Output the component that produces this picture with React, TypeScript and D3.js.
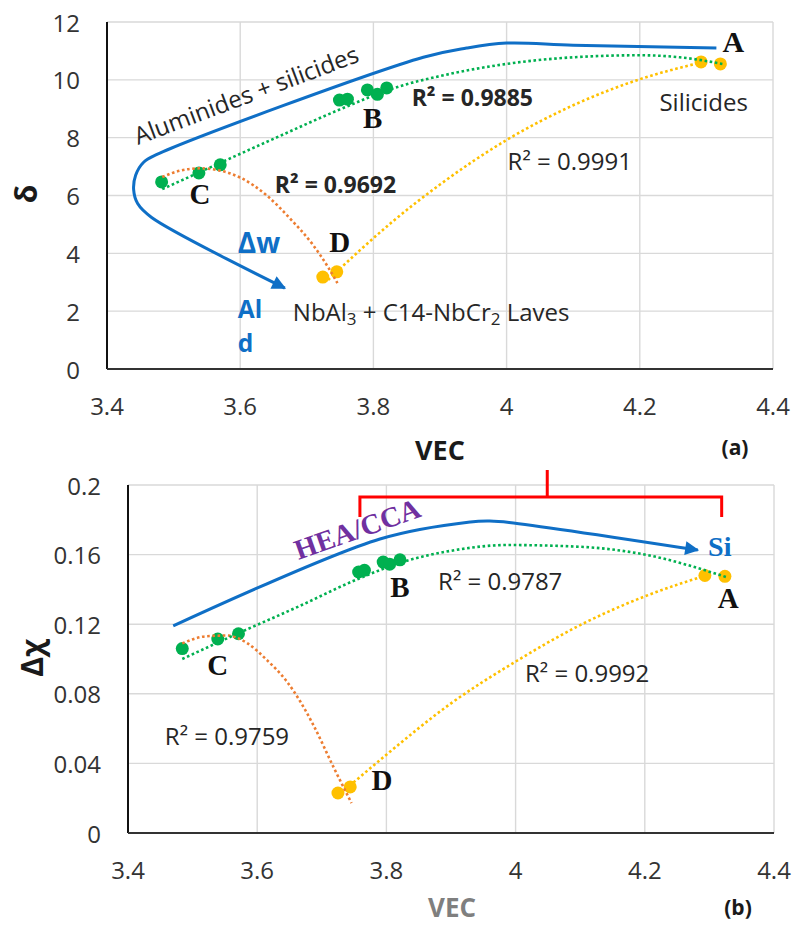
import React from "react";
import * as d3 from "d3";

// ---------- data ----------
const xTickValues = [3.4, 3.6, 3.8, 4, 4.2, 4.4];
const xTickLabels = ["3.4", "3.6", "3.8", "4", "4.2", "4.4"];
const topYTickValues = [0, 2, 4, 6, 8, 10, 12];
const topYTickLabels = ["0", "2", "4", "6", "8", "10", "12"];
const botYTickValues = [0, 0.04, 0.08, 0.12, 0.16, 0.2];
const botYTickLabels = ["0", "0.04", "0.08", "0.12", "0.16", "0.2"];

// (a) delta vs VEC
const topC: [number, number][] = [[3.482, 6.47], [3.538, 6.78], [3.570, 7.06]];
const topB: [number, number][] = [[3.749, 9.30], [3.761, 9.33], [3.791, 9.65], [3.806, 9.50], [3.820, 9.72]];
const topD: [number, number][] = [[3.724, 3.18], [3.745, 3.36]];
const topA: [number, number][] = [[4.292, 10.62], [4.321, 10.55]];
const topGreenTrend: [number, number][] = [[3.483, 6.22], [3.55, 6.92], [3.65, 7.96], [3.75, 8.98], [3.8, 9.45], [3.84, 9.78], [3.9, 10.13], [4.0, 10.55], [4.1, 10.78], [4.2, 10.85], [4.26, 10.78], [4.324, 10.55]];
const topOrangeTrend: [number, number][] = [[3.483, 6.64], [3.51, 6.86], [3.54, 6.94], [3.57, 6.86], [3.6, 6.62], [3.64, 6.0], [3.675, 5.2], [3.709, 4.3], [3.732, 3.52], [3.746, 2.97]];
const topYellowTrend: [number, number][] = [[3.732, 3.08], [3.78, 4.11], [3.83, 5.12], [3.9, 6.38], [4.0, 7.92], [4.1, 9.12], [4.2, 10.02], [4.292, 10.6]];
const topBluePath: [number, number][] = [[4.315, 11.1], [4.1, 11.2], [4.0, 11.27], [3.94, 11.1], [3.875, 10.78], [3.475, 7.42], [3.455, 7.15], [3.443, 6.7], [3.44, 6.2], [3.446, 5.72], [3.467, 5.24], [3.667, 2.8]];

// (b) delta chi vs VEC
const botC: [number, number][] = [[3.484, 0.106], [3.539, 0.1115], [3.571, 0.1145]];
const botB: [number, number][] = [[3.757, 0.150], [3.766, 0.151], [3.795, 0.1557], [3.805, 0.1545], [3.821, 0.157]];
const botD: [number, number][] = [[3.725, 0.023], [3.744, 0.0265]];
const botA: [number, number][] = [[4.293, 0.148], [4.324, 0.1475]];
const botGreenTrend: [number, number][] = [[3.484, 0.100], [3.563, 0.1135], [3.666, 0.1305], [3.756, 0.146], [3.832, 0.1565], [3.9, 0.1622], [3.987, 0.1655], [4.1, 0.1645], [4.203, 0.1598], [4.327, 0.147]];
const botOrangeTrend: [number, number][] = [[3.484, 0.109], [3.52, 0.113], [3.553, 0.1135], [3.585, 0.109], [3.615, 0.0994], [3.646, 0.087], [3.666, 0.076], [3.687, 0.062], [3.718, 0.038], [3.746, 0.0172]];
const botYellowTrend: [number, number][] = [[3.749, 0.029], [3.8, 0.045], [3.9, 0.0745], [4.0, 0.0985], [4.1, 0.1195], [4.2, 0.136], [4.29, 0.1475]];
const botBluePath: [number, number][] = [[3.47, 0.119], [3.79, 0.169], [3.93, 0.1788], [3.96, 0.1793], [3.99, 0.1785], [4.282, 0.1626]];
const botBracket = { x0: 3.759, x1: 4.319, xMid: 4.049, yBar: 0.1931, yLeg: 0.1816, yTop: 0.2086 };

// ---------- styles ----------
const SANS = "'Open Sans', sans-serif";
const SERIF = "'Liberation Serif', 'DejaVu Serif', serif";
const GREEN = "#00B050";
const YELLOW = "#FFC000";
const ORANGE = "#ED7D31";
const BLUE = "#0F6FC6";
const GRID = "#d9d9d9";
const TEXT = "#262626";

const trendLine = (x: any, y: any) =>
  d3.line<[number, number]>().x(d => x(d[0])).y(d => y(d[1])).curve(d3.curveMonotoneX);
const freeLine = (x: any, y: any) =>
  d3.line<[number, number]>().x(d => x(d[0])).y(d => y(d[1])).curve(d3.curveCatmullRom.alpha(0.5));

function Grid({ x, y, yTicks }: any) {
  const [x0, x1] = x.range();
  const [y0, y1] = y.range();
  return (
    <g>
      {xTickValues.map(v => (
        <line key={"gx" + v} x1={x(v)} x2={x(v)} y1={y0} y2={y1} stroke={GRID} strokeWidth={1.4} />
      ))}
      {yTicks.map((v: number) => (
        <line key={"gy" + v} x1={x0} x2={x1} y1={y(v)} y2={y(v)} stroke={GRID} strokeWidth={1.4} />
      ))}
      <line x1={x0} x2={x0} y1={y0} y2={y1} stroke="#111" strokeWidth={2} />
      <line x1={x0} x2={x1} y1={y0} y2={y0} stroke="#333" strokeWidth={2} />
    </g>
  );
}

function Ticks({ x, y, yTicks, yLabels }: any) {
  const [x0] = x.range();
  const [y0] = y.range();
  return (
    <g fontFamily={SANS} fontSize={24} fill="#333">
      {xTickValues.map((v, i) => (
        <text key={"tx" + v} x={x(v)} y={y0 + 36} textAnchor="middle" dominantBaseline="central">{xTickLabels[i]}</text>
      ))}
      {yTicks.map((v: number, i: number) => (
        <text key={"ty" + v} x={x0 - 27} y={y(v)} textAnchor="end" dominantBaseline="central">{yLabels[i]}</text>
      ))}
    </g>
  );
}

function Markers({ pts, x, y, color }: any) {
  return (
    <g>
      {pts.map((p: [number, number], i: number) => (
        <circle key={i} cx={x(p[0])} cy={y(p[1])} r={6.5} fill={color} />
      ))}
    </g>
  );
}

function Trend({ pts, x, y, color }: any) {
  return (
    <path d={trendLine(x, y)(pts) || ""} fill="none" stroke={color} strokeWidth={2.6} strokeDasharray="2.6 2.6" />
  );
}

export default function App() {
  const W = 793, H = 925;
  const xT = d3.scaleLinear().domain([3.4, 4.4]).range([107, 773]);
  const yT = d3.scaleLinear().domain([0, 12]).range([369, 22]);
  const xB = d3.scaleLinear().domain([3.4, 4.4]).range([128, 774]);
  const yB = d3.scaleLinear().domain([0, 0.2]).range([833, 485]);

  const serifLbl = (t: string, x: number, y: number, key: string, fs = 29) => (
    <text key={key} x={x} y={y} textAnchor="middle" fontFamily={SERIF} fontWeight="bold" fontSize={fs} fill="#111">{t}</text>
  );

  const br = botBracket;
  const bracketPath =
    `M${xB(br.x0)},${yB(br.yLeg)} L${xB(br.x0)},${yB(br.yBar)} L${xB(br.x1)},${yB(br.yBar)} L${xB(br.x1)},${yB(br.yLeg)}` +
    ` M${xB(br.xMid)},${yB(br.yBar)} L${xB(br.xMid)},${yB(br.yTop)}`;

  return (
    <svg width={W} height={H} style={{ position: "absolute", left: 0, top: 0, background: "#fff" }}>
      <defs>
        <marker id="arrowBlue" viewBox="0 0 10 10" refX="9" refY="5" markerWidth="17" markerHeight="14" markerUnits="userSpaceOnUse" orient="auto">
          <path d="M0,0 L10,5 L0,10 z" fill={BLUE} />
        </marker>
      </defs>
      <rect x={0} y={0} width={W} height={H} fill="#fff" />

      {/* ---------------- (a) ---------------- */}
      <Grid x={xT} y={yT} yTicks={topYTickValues} />
      <Ticks x={xT} y={yT} yTicks={topYTickValues} yLabels={topYTickLabels} />

      <path d={freeLine(xT, yT)(topBluePath) || ""} fill="none" stroke={BLUE} strokeWidth={3} markerEnd="url(#arrowBlue)" />

      <Markers pts={topC} x={xT} y={yT} color={GREEN} />
      <Markers pts={topB} x={xT} y={yT} color={GREEN} />
      <Markers pts={topD} x={xT} y={yT} color={YELLOW} />
      <Markers pts={topA} x={xT} y={yT} color={YELLOW} />
      <Trend pts={topOrangeTrend} x={xT} y={yT} color={ORANGE} />
      <Trend pts={topYellowTrend} x={xT} y={yT} color={YELLOW} />
      <Trend pts={topGreenTrend} x={xT} y={yT} color={GREEN} />

      {serifLbl("A", xT(4.3405), yT(10.96), "tA", 30)}
      {serifLbl("B", xT(3.799), yT(8.33), "tB")}
      {serifLbl("C", xT(3.5395), yT(5.71), "tC")}
      {serifLbl("D", xT(3.7495), yT(4.05), "tD")}

      <g fontFamily={SANS} fill={TEXT}>
        <text x={xT(3.8575)} y={yT(9.095)} fontSize={23} fontWeight="bold">R² = 0.9885</text>
        <text x={xT(3.652)} y={yT(6.086)} fontSize={23} fontWeight="bold">R² = 0.9692</text>
        <text x={xT(4.0015)} y={yT(6.88)} fontSize={24}>R² = 0.9991</text>
        <text x={xT(4.2295)} y={yT(8.92)} fontSize={24}>Silicides</text>
        <text x={xT(3.679)} y={yT(1.66)} fontSize={24}>
          NbAl<tspan fontSize={17} dy={4}>3</tspan><tspan dy={-4}> + C14-NbCr</tspan><tspan fontSize={17} dy={4}>2</tspan><tspan dy={-4}> Laves</tspan>
        </text>
        <text transform={`translate(${xT(3.4465)},${yT(7.75)}) rotate(-20.6)`} fontSize={24}>Aluminides + silicides</text>
      </g>
      <g fontFamily={SANS} fill={BLUE} fontWeight="bold">
        <text x={xT(3.5965)} y={yT(4.01)} fontSize={28}>Δw</text>
        <text x={xT(3.5965)} y={yT(1.76)} fontSize={24.5}>Al</text>
        <text x={xT(3.5965)} y={yT(0.59)} fontSize={24.5}>d</text>
      </g>

      <text x={440} y={460} textAnchor="middle" fontFamily={SANS} fontWeight="bold" fontSize={27} fill="#1a1a1a">VEC</text>
      <text x={735} y={455} textAnchor="middle" fontFamily={SANS} fontWeight="bold" fontSize={21} fill="#1a1a1a">(a)</text>
      <text transform="translate(25,194) rotate(-90)" textAnchor="middle" dominantBaseline="central" fontFamily={SANS} fontWeight="bold" fontSize={30} fill="#1a1a1a">δ</text>

      {/* ---------------- (b) ---------------- */}
      <Grid x={xB} y={yB} yTicks={botYTickValues} />
      <Ticks x={xB} y={yB} yTicks={botYTickValues} yLabels={botYTickLabels} />

      <path d={bracketPath} fill="none" stroke="#FF0000" strokeWidth={3} />
      <path d={freeLine(xB, yB)(botBluePath) || ""} fill="none" stroke={BLUE} strokeWidth={3} markerEnd="url(#arrowBlue)" />

      <Markers pts={botC} x={xB} y={yB} color={GREEN} />
      <Markers pts={botB} x={xB} y={yB} color={GREEN} />
      <Markers pts={botD} x={xB} y={yB} color={YELLOW} />
      <Markers pts={botA} x={xB} y={yB} color={YELLOW} />
      <Trend pts={botOrangeTrend} x={xB} y={yB} color={ORANGE} />
      <Trend pts={botYellowTrend} x={xB} y={yB} color={YELLOW} />
      <Trend pts={botGreenTrend} x={xB} y={yB} color={GREEN} />

      {serifLbl("A", xB(4.329), yB(0.1293), "bA")}
      {serifLbl("B", xB(3.821), yB(0.1356), "bB")}
      {serifLbl("C", xB(3.539), yB(0.0908), "bC")}
      {serifLbl("D", xB(3.793), yB(0.0247), "bD")}
      <text x={xB(4.298)} y={yB(0.1592)} fontFamily={SERIF} fontWeight="bold" fontSize={28} fill={BLUE}>Si</text>
      <text transform={`translate(${xB(3.664)},${yB(0.1569)}) rotate(-19.5)`} fontFamily={SERIF} fontWeight="bold" fontSize={28.5} fill="#7030A0">HEA/CCA</text>

      <g fontFamily={SANS} fill={TEXT} fontSize={24}>
        <text x={xB(3.88)} y={yB(0.1397)}>R² = 0.9787</text>
        <text x={xB(4.0146)} y={yB(0.0868)}>R² = 0.9992</text>
        <text x={xB(3.457)} y={yB(0.0506)}>R² = 0.9759</text>
      </g>

      <text x={452} y={917} textAnchor="middle" fontFamily={SANS} fontWeight="bold" fontSize={26} fill="#7f7f7f">VEC</text>
      <text x={738} y={915} textAnchor="middle" fontFamily={SANS} fontWeight="bold" fontSize={21} fill="#1a1a1a">(b)</text>
      <text transform="translate(31,658) rotate(-90)" textAnchor="middle" dominantBaseline="central" fontFamily={SANS} fontWeight="bold" fontSize={30} fill="#1a1a1a">Δχ</text>
    </svg>
  );
}
